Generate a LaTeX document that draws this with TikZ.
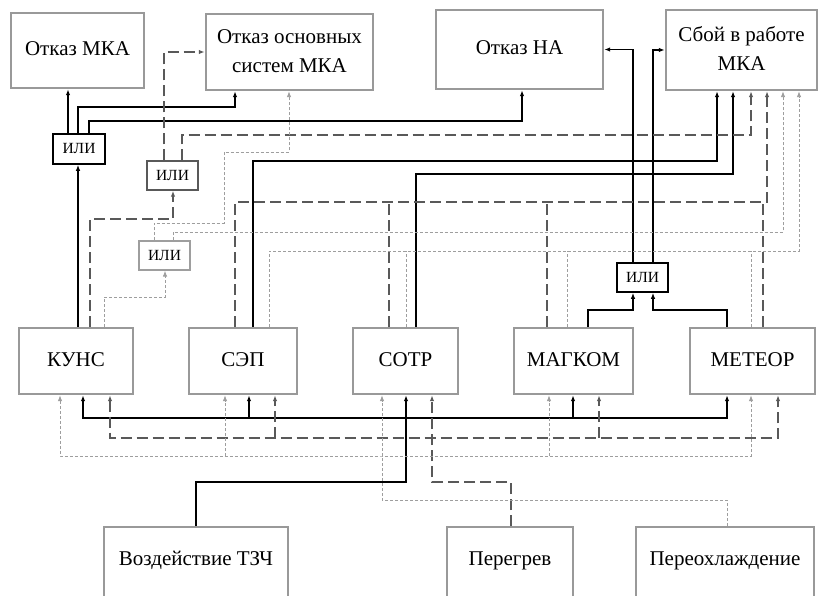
\documentclass[tikz,border=0pt]{standalone}
\usepackage{fontspec}
\setmainfont{Liberation Serif}
\newfontfamily\diagfont{Liberation Serif}
\usetikzlibrary{arrows.meta}
\begin{document}
\begin{tikzpicture}[x=1pt,y=-1pt,
  box/.style={draw=black!40, line width=2.4pt, inner sep=0pt, align=center, font=\diagfont\fontsize{21}{29}\selectfont},
  bottombox/.style={anchor=north, text height=38pt, text depth=62pt, inner ysep=0pt},
  gate/.style={line width=1.6pt, minimum width=51pt, minimum height=29pt, inner sep=0pt, font=\diagfont\fontsize{15.5}{17}\selectfont},
  sl/.style={line width=1.3pt, draw=black},
  dl/.style={line width=1.3pt, draw=black!65, dash pattern=on 11pt off 5pt},
  ol/.style={line width=0.9pt, draw=black!38, dash pattern=on 3pt off 2pt},
  arr/.style={-{Latex[length=6pt,width=4.5pt]}},
  arrboth/.style={{Latex[length=6pt,width=4.5pt]}-{Latex[length=6pt,width=4.5pt]}}
]
\useasboundingbox (0,0) rectangle (818,596);
\clip (0,0) rectangle (818,596);

% top row
\node[box, minimum width=133pt, minimum height=75pt] (omka) at (77.5,50.5) {\raisebox{3pt}{Отказ МКА}};
\node[box, minimum width=167pt, minimum height=76pt] (oos) at (289.5,52) {\raisebox{4pt}{\begin{tabular}{@{}c@{}}Отказ основных\\систем МКА\end{tabular}}};
\node[box, minimum width=167pt, minimum height=79pt] (ona) at (519.5,49.5) {\raisebox{3pt}{Отказ НА}};
\node[box, minimum width=151pt, minimum height=80pt] (sboy) at (741.5,50) {\raisebox{4pt}{\begin{tabular}{@{}c@{}}Сбой в работе\\МКА\end{tabular}}};

% middle row
\node[box, minimum width=114pt, minimum height=66pt] (kuns) at (76,361) {\raisebox{3pt}{КУНС}};
\node[box, minimum width=108pt, minimum height=66pt] (sep) at (243,361) {\raisebox{3pt}{СЭП}};
\node[box, minimum width=105pt, minimum height=66pt] (sotr) at (405.5,361) {\raisebox{3pt}{СОТР}};
\node[box, minimum width=119pt, minimum height=66pt] (magkom) at (573.5,361) {\raisebox{3pt}{МАГКОМ}};
\node[box, minimum width=125pt, minimum height=66pt] (meteor) at (752.5,361) {\raisebox{3pt}{МЕТЕОР}};

% bottom row
\node[box, bottombox, minimum width=184pt] (vozd) at (196,526) {Воздействие ТЗЧ};
\node[box, bottombox, minimum width=126pt] (pereg) at (510,526) {Перегрев};
\node[box, bottombox, minimum width=178pt] (pereo) at (725,526) {Переохлаждение};

% gates
\node[gate, draw=black, minimum width=52pt, minimum height=30pt] (or1) at (79,149) {ИЛИ};
\node[gate, draw=black!65, line width=1.4pt] (or2) at (172.5,175.5) {ИЛИ};
\node[gate, draw=black!38, line width=1.2pt] (or3) at (164.5,255.5) {ИЛИ};
\node[gate, draw=black] (or4) at (642.5,277.5) {ИЛИ};

% bus coordinates
\coordinate (sb0) at (406,418);
\coordinate (sb1) at (249,418);
\coordinate (sb2) at (573,418);
\coordinate (db0) at (432,438);
\coordinate (db1) at (275,438);
\coordinate (db2) at (599,438);
\coordinate (ob0) at (382,456);
\coordinate (ob1) at (225,456);
\coordinate (ob2) at (549,456);
\coordinate (dt1) at (389,202);
\coordinate (dt2) at (547,202);
\coordinate (dt3) at (763,202);
\coordinate (ot1) at (406,251);
\coordinate (ot2) at (567,251);
\coordinate (ot3) at (751,251);

% solid connectors
\draw[sl,arr] (kuns.north -| 78,0) -- (or1.south -| 78,0);
\draw[sl,arr] (or1.north -| 68,0) -- (omka.south -| 68,0);
\draw[sl,arr] (or1.north -| 78,0) |- (235,107) -- (oos.south -| 235,0);
\draw[sl,arr] (or1.north -| 89,0) |- (522,121) -- (ona.south -| 522,0);
\draw[sl,arr] (or4.north -| 633,0) |- (ona.east);
\draw[sl,arr] (or4.north -| 653,0) |- (sboy.west);
\draw[sl,arr] (sep.north -| 253,0) |- (717,161) -- (sboy.south -| 717,0);
\draw[sl,arr] (sotr.north -| 416,0) |- (733,174) -- (sboy.south -| 733,0);
\draw[sl,arr] (magkom.north -| 588,0) |- (633,310) -- (or4.south -| 633,0);
\draw[sl,arr] (meteor.north -| 727,0) |- (653,310) -- (or4.south -| 653,0);
\draw[sl,arr] (vozd.north -| 196,0) |- (406,482) -- (sotr.south -| sb0);
\draw[sl,arrboth] (kuns.south -| 83,0) |- (sb0) -| (meteor.south -| 727,0);
\draw[sl,arr] (sb1) -- (sep.south -| sb1);
\draw[sl,arr] (sb2) -- (magkom.south -| sb2);

% dashed connectors
\draw[dl,arr] (kuns.north -| 90,0) |- (173,219) -- (or2.south -| 173,0);
\draw[dl,arr] (or2.north -| 164,0) |- (oos.west);
\draw[dl,arr] (or2.north -| 182,0) |- (751,135) -- (sboy.south -| 751,0);
\draw[dl,arr] (sep.north -| 235,0) |- (767,202) -- (sboy.south -| 767,0);
\draw[dl] (sotr.north -| dt1) -- (dt1);
\draw[dl] (magkom.north -| dt2) -- (dt2);
\draw[dl] (meteor.north -| dt3) -- (dt3);
\draw[dl,arr] (pereg.north -| 511,0) |- (432,482) -- (sotr.south -| db0);
\draw[dl,arrboth] (kuns.south -| 110,0) |- (db0) -| (meteor.south -| 778,0);
\draw[dl,arr] (db1) -- (sep.south -| db1);
\draw[dl,arr] (db2) -- (magkom.south -| db2);

% dotted connectors
\draw[ol,arr] (kuns.north -| 104,0) |- (165,297) -- (or3.south -| 165,0);
\draw[ol,arr] (or3.north -| 154,0) |- (224,223) |- (289,152) -- (oos.south -| 289,0);
\draw[ol,arr] (or3.north -| 173,0) |- (783,232) -- (sboy.south -| 783,0);
\draw[ol,arr] (sep.north -| 269,0) |- (799,251) -- (sboy.south -| 799,0);
\draw[ol] (sotr.north -| ot1) -- (ot1);
\draw[ol] (magkom.north -| ot2) -- (ot2);
\draw[ol] (meteor.north -| ot3) -- (ot3);
\draw[ol,arr] (pereo.north -| 727,0) |- (382,500) -- (sotr.south -| ob0);
\draw[ol,arrboth] (kuns.south -| 60,0) |- (ob0) -| (meteor.south -| 751,0);
\draw[ol,arr] (ob1) -- (sep.south -| ob1);
\draw[ol,arr] (ob2) -- (magkom.south -| ob2);
\end{tikzpicture}
\end{document}
